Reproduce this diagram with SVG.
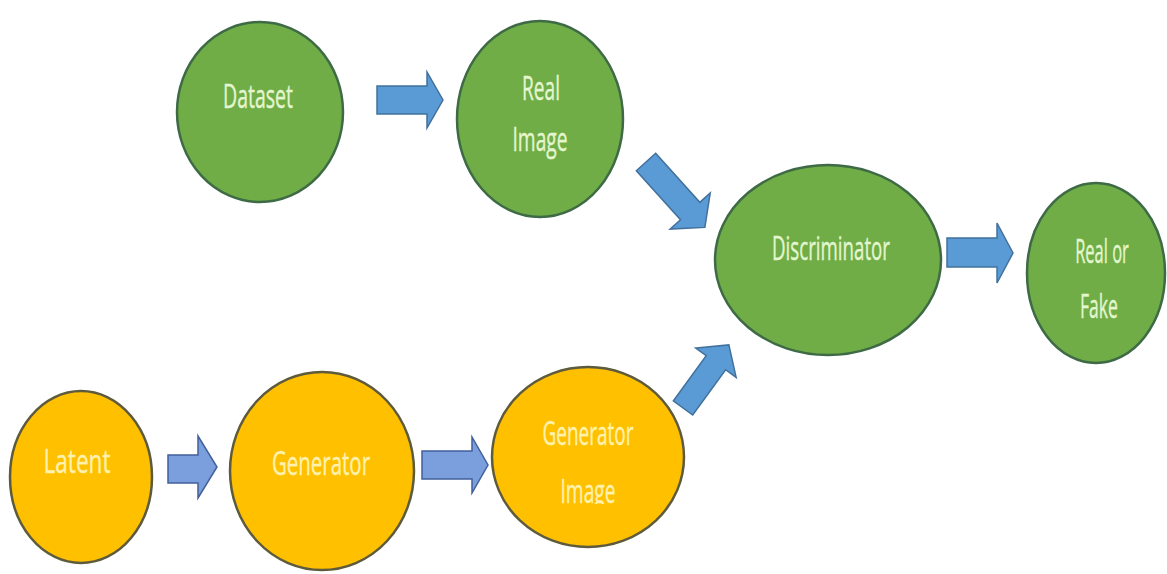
<svg xmlns="http://www.w3.org/2000/svg" width="1167" height="574" viewBox="0 0 1167 574">
<style>
.g{fill:#70ad47;stroke:#3e6a45;stroke-width:2.5}
.y{fill:#ffc000;stroke:#5e5a3c;stroke-width:2.5}
.tg{fill:#e4f6cf;stroke:#e4f6cf;stroke-width:0.4;font-family:"Open Sans",sans-serif;font-size:33px;text-anchor:middle}
.ty{fill:#fff2b0;stroke:#fff2b0;stroke-width:0.4;font-family:"Open Sans",sans-serif;font-size:33px;text-anchor:middle}
.a{fill:#5b9bd5;stroke:#41719c;stroke-width:1.5;stroke-linejoin:miter}
.a2{fill:#7a9fdc;stroke:#41609c;stroke-width:1.5}
</style>
<defs>
<clipPath id="clipImg"><rect x="0" y="0" width="1167" height="504"/></clipPath>
</defs>
<rect width="1167" height="574" fill="#ffffff"/>
<g id="connectors">
<polygon class="a" points="377,86 427,86 427,72 443,100 427,128 427,114 377,114"/>
<polygon class="a" transform="translate(646,162) rotate(48)" points="0,-13 66,-13 66,-27 88,0 66,27 66,13 0,13"/>
<polygon class="a" transform="translate(683,408) rotate(-54)" points="0,-12 56,-12 56,-25 78,0 56,25 56,12 0,12"/>
<polygon class="a" points="947,238 997,238 997,223 1013,253 997,283 997,267 947,267"/>
<polygon class="a2" points="168,455 198,455 198,436 217,467 198,498 198,483 168,483"/>
<polygon class="a2" points="422,451 472,451 472,437 488,465 472,493 472,479 422,479"/>
</g>
<g id="dataset">
<ellipse class="g" cx="260" cy="112" rx="83" ry="90"/>
<text class="tg" x="258" y="108" textLength="70" lengthAdjust="spacingAndGlyphs">Dataset</text>
</g>
<g id="real-image">
<ellipse class="g" cx="540" cy="119" rx="83" ry="98"/>
<text class="tg" x="541" y="100" textLength="38" lengthAdjust="spacingAndGlyphs">Real</text>
<text class="tg" x="540" y="151" textLength="55" lengthAdjust="spacingAndGlyphs">Image</text>
</g>
<g id="discriminator">
<ellipse class="g" cx="828" cy="260" rx="113" ry="95"/>
<text class="tg" x="831" y="260" textLength="118" lengthAdjust="spacingAndGlyphs">Discriminator</text>
</g>
<g id="real-or-fake">
<ellipse class="g" cx="1096" cy="273" rx="69" ry="90"/>
<text class="tg" transform="translate(1102,263) scale(0.5,1)" x="0" y="0">Real or</text>
<text class="tg" x="1099" y="318" textLength="38" lengthAdjust="spacingAndGlyphs">Fake</text>
</g>
<g id="latent">
<ellipse class="y" cx="81" cy="477" rx="71" ry="86"/>
<text class="ty" x="77" y="473" textLength="67" lengthAdjust="spacingAndGlyphs">Latent</text>
</g>
<g id="generator">
<ellipse class="y" cx="322" cy="471" rx="92" ry="99"/>
<text class="ty" x="321" y="475" textLength="98" lengthAdjust="spacingAndGlyphs">Generator</text>
</g>
<g id="generator-image">
<ellipse class="y" cx="588" cy="457" rx="96" ry="90"/>
<text class="ty" x="588" y="445" textLength="91" lengthAdjust="spacingAndGlyphs">Generator</text>
<text class="ty" x="588" y="503" textLength="55" lengthAdjust="spacingAndGlyphs" clip-path="url(#clipImg)">Image</text>
</g>
</svg>
